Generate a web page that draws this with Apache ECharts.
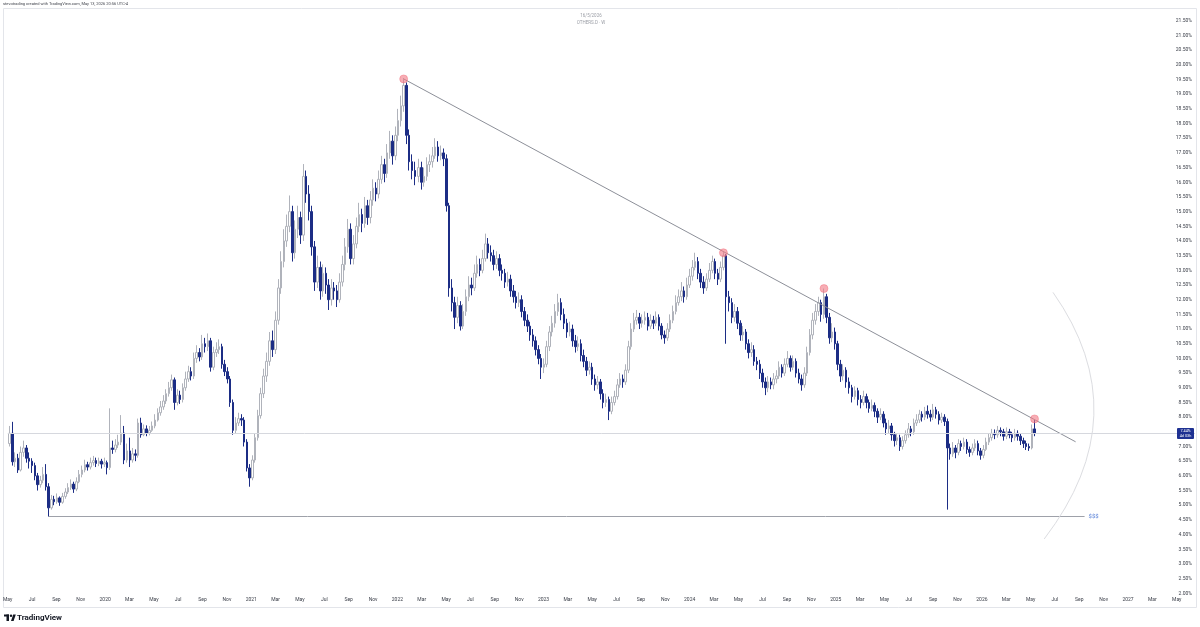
<!DOCTYPE html>
<html><head><meta charset="utf-8">
<script src="https://cdn.jsdelivr.net/npm/echarts@6/dist/echarts.min.js"></script>
<style>html,body{margin:0;padding:0;background:#fff}#c{width:1200px;height:627px}</style>
</head><body><div id="c"></div>
<script>
// ---- data (weekly OTHERS.D candles, %) ----
const firstWeek = [2019, 5, 6];   // Monday of the first weekly candle
const firstOpen = 7.10;
const closes = [
7.45,6.48,6.60,6.20,6.80,6.95,6.60,6.50,6.35,6.00,
5.70,5.85,6.05,5.63,4.91,5.20,5.12,5.25,5.10,5.30,
5.45,5.60,5.72,5.55,5.80,6.05,6.20,6.38,6.30,6.45,
6.52,6.42,6.50,6.40,6.45,6.28,6.95,6.90,7.05,7.15,
7.46,6.54,6.85,6.54,6.75,6.70,7.80,7.40,7.60,7.46,
7.55,7.70,7.90,8.15,8.35,8.55,8.80,9.00,9.27,8.50,
8.75,8.60,9.00,9.30,9.55,9.40,10.00,10.20,10.05,10.50,
10.40,10.60,9.70,10.20,10.30,10.40,9.80,9.55,9.30,8.50,
7.55,7.80,7.95,7.90,7.15,6.27,5.93,6.54,7.30,8.05,
8.80,9.40,9.90,10.60,10.30,11.30,12.40,13.30,14.00,14.50,
15.00,13.60,14.40,14.80,14.20,16.20,15.60,15.00,13.80,12.60,
13.10,12.30,12.90,12.50,12.00,12.40,12.30,12.00,12.60,13.20,
13.80,14.40,13.40,13.90,14.50,14.90,14.60,15.20,14.80,15.40,
15.80,15.60,16.10,16.60,16.30,17.00,17.40,16.90,17.60,18.10,
18.60,19.30,17.60,16.70,16.40,16.20,16.50,16.00,16.20,16.60,
16.70,16.90,17.20,16.90,17.00,16.80,15.20,12.40,11.90,11.40,
11.80,11.10,11.60,12.10,12.50,12.40,12.90,13.20,13.00,13.40,
13.90,13.60,13.50,13.20,13.40,13.00,12.90,12.60,12.70,12.30,
12.10,11.90,12.00,11.60,11.30,11.10,10.80,10.60,10.30,10.00,
9.70,9.80,10.40,10.90,11.20,11.60,11.90,11.50,11.20,10.90,
11.00,10.60,10.40,10.50,10.10,9.90,9.60,9.70,9.30,9.10,
9.20,8.80,8.50,8.60,8.20,8.50,8.70,9.10,9.30,9.20,
9.60,10.40,11.00,11.30,11.40,11.20,11.30,11.40,11.10,11.30,
11.20,11.40,11.10,10.80,10.70,11.00,11.30,11.60,11.90,12.10,
12.30,12.10,12.50,12.80,13.10,13.30,12.90,12.60,12.40,12.70,
13.00,13.30,12.90,12.70,13.10,13.50,12.10,11.90,11.40,11.60,
11.20,10.80,10.90,10.50,10.20,10.30,9.90,9.80,9.50,9.20,
9.00,9.20,9.10,9.30,9.40,9.70,9.50,9.80,10.00,9.70,
9.90,9.50,9.30,9.10,9.50,10.20,10.80,11.30,11.60,11.90,
11.50,12.10,11.40,10.70,10.90,10.50,9.80,9.40,9.60,9.20,
9.00,8.70,8.90,8.60,8.50,8.70,8.50,8.30,8.40,8.20,
8.00,8.10,7.80,7.60,7.70,7.40,7.20,7.30,7.00,7.20,
7.40,7.60,7.50,7.80,7.90,8.10,8.00,8.20,8.10,8.00,
8.25,8.10,7.90,8.00,7.85,6.95,6.75,6.95,6.80,7.10,
7.00,7.15,6.90,6.80,6.95,7.10,6.85,6.70,6.90,7.15,
7.30,7.45,7.40,7.55,7.50,7.35,7.50,7.40,7.30,7.45,
7.35,7.20,7.10,7.00,6.95,7.60,7.44];
const highs = [
7.70,7.84,6.80,6.75,7.00,7.20,7.05,6.80,6.60,6.45,
6.10,6.00,6.30,6.40,5.75,5.35,5.32,5.40,5.30,5.42,
5.58,5.75,5.88,5.80,5.95,6.20,6.35,6.55,6.48,6.62,
6.68,6.62,6.62,6.58,6.62,6.52,8.30,7.20,7.25,7.40,
8.07,7.70,7.10,7.30,6.95,6.90,7.95,7.98,7.75,7.72,
7.70,7.85,8.10,8.30,8.55,8.75,8.95,9.20,9.45,9.35,
8.95,8.90,9.15,9.55,9.75,9.70,10.20,10.45,10.35,10.80,
10.70,10.85,10.70,10.40,10.55,10.65,10.50,9.95,9.70,9.40,
8.60,8.00,8.15,8.10,8.00,7.25,6.40,6.70,7.45,8.25,
9.00,9.65,10.20,10.90,10.95,11.60,12.70,13.65,14.40,14.90,
15.55,15.20,14.70,15.20,15.00,16.62,16.40,15.90,15.20,14.00,
13.50,13.30,13.20,13.10,12.70,12.70,12.60,12.50,12.90,13.50,
14.10,14.75,14.60,14.20,14.80,15.30,15.10,15.50,15.40,15.70,
16.10,16.00,16.40,16.90,16.80,17.30,17.75,17.60,17.90,18.50,
18.95,19.55,19.40,17.80,16.95,16.70,16.80,16.70,16.50,16.85,
16.95,17.20,17.50,17.40,17.25,17.15,16.95,15.30,12.70,12.10,
12.10,11.95,11.85,12.35,12.80,12.75,13.20,13.50,13.40,13.70,
14.25,14.10,13.85,13.70,13.65,13.55,13.20,13.05,12.95,12.85,
12.50,12.30,12.25,12.15,11.75,11.50,11.25,11.00,10.75,10.45,
10.15,10.00,10.60,11.10,11.45,11.85,12.20,12.05,11.70,11.35,
11.25,11.15,10.80,10.75,10.65,10.30,10.05,9.90,9.85,9.45,
9.40,9.30,8.95,8.80,8.70,8.70,8.90,9.30,9.50,9.45,
9.80,10.60,11.20,11.55,11.65,11.55,11.50,11.60,11.55,11.50,
11.45,11.60,11.50,11.20,10.95,11.20,11.50,11.80,12.15,12.35,
12.60,12.45,12.75,13.05,13.35,13.60,13.45,13.05,12.80,12.90,
13.25,13.50,13.40,13.05,13.30,13.62,13.55,12.30,12.05,11.85,
11.75,11.30,11.10,11.00,10.65,10.55,10.45,10.05,9.95,9.65,
9.35,9.40,9.35,9.50,9.60,9.90,9.80,10.00,10.25,10.10,
10.10,10.00,9.65,9.45,9.70,10.40,11.00,11.55,11.85,12.10,
12.00,12.38,12.20,11.55,11.20,11.05,10.60,9.95,9.80,9.70,
9.35,9.10,9.05,9.00,8.75,8.90,8.80,8.60,8.60,8.50,
8.30,8.30,8.20,7.95,7.90,7.80,7.50,7.45,7.40,7.35,
7.55,7.80,7.70,7.95,8.10,8.25,8.20,8.35,8.40,8.25,
8.45,8.35,8.20,8.15,8.10,7.95,7.10,7.15,7.05,7.25,
7.20,7.30,7.25,7.00,7.10,7.25,7.20,6.95,7.05,7.30,
7.45,7.60,7.58,7.70,7.65,7.60,7.65,7.60,7.50,7.60,
7.55,7.45,7.30,7.20,7.10,7.75,7.90];
const lows = [
7.00,6.35,6.30,6.10,6.15,6.65,6.45,6.25,6.10,5.85,
5.50,5.60,5.75,5.50,4.61,4.85,5.00,5.05,4.98,5.05,
5.22,5.38,5.52,5.42,5.48,5.75,5.95,6.12,6.18,6.22,
6.35,6.30,6.33,6.25,6.30,6.05,6.20,6.75,6.80,6.95,
7.05,6.40,6.45,6.30,6.45,6.50,6.62,7.30,7.35,7.35,
7.38,7.50,7.62,7.85,8.05,8.25,8.45,8.70,8.90,8.25,
8.40,8.45,8.50,8.90,9.20,9.25,9.30,9.85,9.90,9.95,
10.20,10.25,9.55,9.60,10.05,10.15,9.65,9.40,9.15,8.35,
7.40,7.45,7.70,7.70,7.00,6.15,5.63,5.85,6.45,7.20,
7.95,8.65,9.20,9.75,10.05,10.15,11.15,12.20,13.10,13.80,
14.30,13.30,13.40,14.10,13.90,14.00,15.30,14.70,13.50,12.30,
12.40,12.00,12.10,12.20,11.65,11.80,12.00,11.75,11.90,12.45,
13.00,13.60,13.20,13.20,13.75,14.30,14.30,14.45,14.55,14.60,
15.20,15.35,15.45,15.95,16.00,16.15,16.80,16.60,16.75,17.40,
17.90,18.40,17.30,16.40,16.10,15.90,16.00,15.75,15.85,16.05,
16.35,16.50,16.80,16.70,16.75,16.55,15.00,12.10,11.60,11.00,
11.20,10.95,11.00,11.45,11.95,12.15,12.30,12.75,12.80,12.90,
13.30,13.40,13.30,13.00,13.05,12.80,12.65,12.40,12.45,12.10,
11.90,11.70,11.75,11.40,11.10,10.90,10.60,10.40,10.10,9.80,
9.30,9.50,9.70,10.25,10.75,11.05,11.45,11.30,11.00,10.70,
10.75,10.40,10.20,10.25,9.90,9.70,9.40,9.45,9.10,8.90,
8.95,8.60,8.30,8.35,7.90,8.10,8.40,8.60,9.00,9.00,
9.10,9.50,10.30,10.90,11.15,11.00,11.05,11.15,10.95,11.00,
11.00,11.10,10.95,10.65,10.50,10.60,10.90,11.20,11.50,11.80,
11.95,11.90,12.00,12.40,12.65,13.00,12.70,12.40,12.20,12.30,
12.60,12.90,12.70,12.50,12.60,13.00,10.50,11.60,11.20,11.25,
11.00,10.60,10.60,10.30,10.00,10.05,9.75,9.60,9.30,9.00,
8.75,8.85,8.95,8.95,9.15,9.30,9.35,9.40,9.70,9.55,
9.60,9.35,9.15,8.90,9.00,9.40,10.10,10.65,11.15,11.45,
11.25,11.35,11.20,10.50,10.55,10.30,9.60,9.20,9.25,9.00,
8.80,8.50,8.60,8.40,8.30,8.40,8.30,8.15,8.20,8.00,
7.80,7.90,7.65,7.40,7.45,7.20,7.00,7.05,6.85,6.90,
7.10,7.30,7.35,7.40,7.70,7.80,7.85,7.90,7.95,7.85,
7.90,7.95,7.75,7.80,7.70,4.85,6.55,6.65,6.60,6.70,
6.85,6.90,6.75,6.65,6.70,6.85,6.70,6.55,6.60,6.85,
7.05,7.20,7.25,7.30,7.35,7.20,7.25,7.28,7.15,7.20,
7.20,7.05,6.95,6.88,6.85,6.90,7.35];
const monthNames = ['Jan','Feb','Mar','Apr','May','Jun','Jul','Aug','Sep','Oct','Nov','Dec'];
const lastPrice = 7.44;
const countdown = '4d 03h';
// annotations: [week index, value]
const trendLine = [[141, 19.52], [380.8, 7.16]];
const supportLine = [[14, 4.61], [384, 4.61]];
const touchPoints = [[141, 19.52], [255, 13.60], [291, 12.38], [366, 7.94]];
const arcPoints = [[372.6, 12.25], [403.6, 8.08], [369.5, 3.85]]; // start, control, end

// ---- helpers ----
const baseMs = Date.UTC(firstWeek[0], firstWeek[1]-1, firstWeek[2]);
function mv(w){ // week index -> months since Jan 2019
  const d = new Date(baseMs + w*7*86400000);
  const y = d.getUTCFullYear(), m = d.getUTCMonth();
  const dim = new Date(Date.UTC(y, m+1, 0)).getUTCDate();
  return (y-2019)*12 + m + (d.getUTCDate()-1 + d.getUTCHours()/24)/dim;
}
const candles = closes.map((c,i)=>[mv(i), i===0 ? firstOpen : closes[i-1], c, lows[i], highs[i]]);
const FONT = 'Roboto';
const chart = echarts.init(document.getElementById('c'));
chart.setOption({
  animation:false,
  backgroundColor:'#ffffff',
  grid:{left:6, right:5, top:6.1, bottom:33.7},
  xAxis:{type:'value', min:4, max:101.5, interval:2,
    axisLine:{show:false}, axisTick:{show:false}, splitLine:{show:false},
    axisLabel:{showMaxLabel:false, fontSize:5, color:'#3a3e48', margin:4, fontFamily:FONT,
      formatter:function(v){const r=Math.round(v); if(r%2) return ''; const m=((r%12)+12)%12; return m===0? String(2019+r/12) : monthNames[m];}}},
  yAxis:{type:'value', position:'right', min:2, max:22, interval:0.5,
    axisLine:{show:false}, axisTick:{show:false}, splitLine:{show:false},
    axisLabel:{inside:true, showMaxLabel:false, fontSize:5, color:'#3a3e48', margin:3, fontFamily:FONT,
      formatter:function(v){return v.toFixed(2)+'%';}}},
  series:[{
    type:'candlestick',
    data:candles,
    encode:{x:0, y:[1,2,3,4]},
    barWidth:2,
    itemStyle:{color:'#ffffff', color0:'#1c2d85', borderColor:'#b0b3bb', borderColor0:'#1c2d85', borderWidth:1},
    markLine:{
      silent:true, symbol:['none','none'], label:{show:false}, animation:false,
      data:[
        [{coord:[mv(trendLine[0][0]), trendLine[0][1]], lineStyle:{color:'#8d9099', width:1, type:'solid'}},
         {coord:[mv(trendLine[1][0]), trendLine[1][1]]}],
        [{coord:[mv(supportLine[0][0]), supportLine[0][1]], lineStyle:{color:'#9ea1a9', width:1, type:'solid'},
          label:{show:true, position:'end', formatter:'$$$', color:'#5a82d8', fontSize:6, distance:4, fontFamily:FONT}},
         {coord:[mv(supportLine[1][0]), supportLine[1][1]]}],
        {yAxis:lastPrice, lineStyle:{color:'#d6d8de', width:1, type:'solid'}}
      ]
    },
    markPoint:{
      silent:true, symbol:'circle', symbolSize:8, label:{show:false},
      itemStyle:{color:'rgba(242,120,132,0.6)', borderColor:'rgba(242,90,105,0.35)', borderWidth:1},
      data: touchPoints.map(p=>({coord:[mv(p[0]), p[1]]}))
    }
  }]
});

// ---- overlays ----
const pY = chart.convertToPixel({gridIndex:0}, [mv(0), lastPrice])[1];
const a0 = chart.convertToPixel({gridIndex:0}, [mv(arcPoints[0][0]), arcPoints[0][1]]);
const a1 = chart.convertToPixel({gridIndex:0}, [mv(arcPoints[1][0]), arcPoints[1][1]]);
const a2 = chart.convertToPixel({gridIndex:0}, [mv(arcPoints[2][0]), arcPoints[2][1]]);
chart.setOption({graphic:[
  {type:'rect', shape:{x:3.5, y:8.5, width:1193, height:599}, style:{fill:null, stroke:'#e3e5ea', lineWidth:1}, silent:true, z:0},
  {type:'text', left:3, top:2, style:{text:'stevotrading created with TradingView.com, May 13, 2026 20:56 UTC-4', fontSize:4, fill:'#40434c', fontFamily:FONT}},
  {type:'text', x:591, y:13.5, style:{text:'16/5/2026', fontSize:4.5, fill:'#9a9da5', align:'center', fontFamily:FONT}},
  {type:'text', x:591, y:20.5, style:{text:'OTHERS.D · W', fontSize:4.5, fill:'#9a9da5', align:'center', fontFamily:FONT}},
  {type:'bezierCurve', shape:{x1:a0[0], y1:a0[1], cpx1:a1[0], cpy1:a1[1], x2:a2[0], y2:a2[1]}, style:{stroke:'#dcdde1', lineWidth:1, fill:null}, silent:true, z:5},
  {type:'rect', shape:{x:1177, y:pY-5.5, width:17, height:11, r:1}, style:{fill:'#1e3192'}, z:20},
  {type:'text', x:1185.5, y:pY-4.8, style:{text:lastPrice.toFixed(2)+'%\n'+countdown, fontSize:3.8, lineHeight:5, fill:'#ffffff', align:'center', fontFamily:FONT}, z:21},
  {type:'group', left:4, top:614, children:[
    {type:'rect', shape:{x:0, y:0, width:5, height:2}, style:{fill:'#131722'}},
    {type:'rect', shape:{x:2.5, y:0, width:2.5, height:6.5}, style:{fill:'#131722'}},
    {type:'circle', shape:{cx:7, cy:1.2, r:1.2}, style:{fill:'#131722'}},
    {type:'polygon', shape:{points:[[9.2,0],[11.8,0],[9.6,6.5],[7,6.5]]}, style:{fill:'#131722'}},
    {type:'text', x:13, y:-0.5, style:{text:'TradingView', fontSize:8, fontWeight:'bold', fill:'#131722', fontFamily:FONT}}
  ]}
]});
</script>
</body></html>
